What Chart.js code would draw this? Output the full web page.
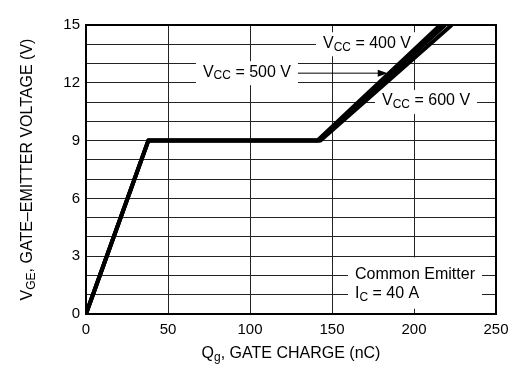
<!DOCTYPE html>
<html>
<head>
<meta charset="utf-8">
<script src="https://cdn.jsdelivr.net/npm/chart.js@4"></script>
<style>
  body { margin: 0; background: #fff; }
  #wrap { width: 518px; height: 375px; }
</style>
</head>
<body>
<div id="wrap"><canvas id="gate" width="518" height="375"></canvas></div>
<script>
// curve points (nC, V)
const qg400 = [0, 38, 141, 216];
const vge400 = [0, 9, 9, 15];
const qg500 = [0, 38, 142, 219];
const vge500 = [0, 9, 9, 15];
const qg600 = [0, 38, 143, 223];
const vge600 = [0, 9, 9, 15];

const xTicks = [0, 50, 100, 150, 200, 250];
const yTicks = [0, 3, 6, 9, 12, 15];

const FONT = '"Liberation Sans", Arial, sans-serif';

function pts(xs, ys) {
    return xs.map((x, i) => ({ x: x, y: ys[i] }));
}

// text with subscript pieces, e.g. [['V'], ['CC', true], [' = 400 V']]
function partsWidth(ctx, parts, size) {
    let w = 0;
    parts.forEach(p => {
        ctx.font = (p[1] ? size * 0.75 : size) + 'px ' + FONT;
        w += ctx.measureText(p[0]).width;
    });
    return w;
}
function drawParts(ctx, parts, x, y, size) {
    ctx.textAlign = 'left';
    ctx.textBaseline = 'middle';
    parts.forEach(p => {
        ctx.font = (p[1] ? size * 0.75 : size) + 'px ' + FONT;
        ctx.fillText(p[0], x, p[1] ? y + 4 : y);
        x += ctx.measureText(p[0]).width;
    });
}

const notes = [
    { x: 144.5, y: 14, parts: [['V'], ['CC', true], [' = 400 V']] },
    { x: 71.3, y: 12.5, parts: [['V'], ['CC', true], [' = 500 V']], arrowTo: 184 },
    { x: 180.5, y: 11, parts: [['V'], ['CC', true], [' = 600 V']] }
];

const annotations = {
    id: 'annotations',
    beforeDatasetsDraw(chart) {
        const ctx = chart.ctx;
        const xs = chart.scales.x, ys = chart.scales.y;
        const size = 16, pad = 7;
        ctx.save();
        notes.forEach(n => {
            const px = xs.getPixelForValue(n.x);
            const py = ys.getPixelForValue(n.y);
            const w = partsWidth(ctx, n.parts, size);
            ctx.fillStyle = '#fff';
            ctx.fillRect(px - pad, py - 12, w + 2 * pad, 24);
            ctx.fillStyle = '#000';
            drawParts(ctx, n.parts, px, py - 1, size);
            if (n.arrowTo) {
                const tip = xs.getPixelForValue(n.arrowTo);
                ctx.strokeStyle = '#000';
                ctx.lineWidth = 1;
                ctx.beginPath();
                ctx.moveTo(px + w + pad, py);
                ctx.lineTo(tip - 6, py);
                ctx.stroke();
                ctx.beginPath();
                ctx.moveTo(tip, py);
                ctx.lineTo(tip - 10, py - 3.5);
                ctx.lineTo(tip - 10, py + 3.5);
                ctx.closePath();
                ctx.fill();
            }
        });

        // Common Emitter / Ic box
        const cx = xs.getPixelForValue(164);
        const y1 = ys.getPixelForValue(2), y2 = ys.getPixelForValue(1);
        ctx.font = size + 'px ' + FONT;
        const cw = ctx.measureText('Common Emitter').width;
        ctx.fillStyle = '#fff';
        ctx.fillRect(cx - pad, y1 - 18, cw + 2 * pad, y2 - y1 + 32);
        ctx.fillStyle = '#000';
        drawParts(ctx, [['Common Emitter']], cx, y1 - 1, size);
        drawParts(ctx, [['I'], ['C', true], [' = 40 A']], cx, y2 - 1, size);
        ctx.restore();
    },
    afterDatasetsDraw(chart) {
        const ctx = chart.ctx, a = chart.chartArea;
        ctx.save();
        ctx.strokeStyle = '#000';
        ctx.lineWidth = 2;
        ctx.strokeRect(a.left, a.top, a.right - a.left, a.bottom - a.top);
        ctx.restore();
    },
    afterDraw(chart) {
        const ctx = chart.ctx, a = chart.chartArea;
        const size = 16;
        ctx.save();
        ctx.fillStyle = '#000';
        // x title
        const xp = [['Q'], ['g', true], [', GATE CHARGE (nC)']];
        const xw = partsWidth(ctx, xp, size);
        drawParts(ctx, xp, (a.left + a.right) / 2 - xw / 2, 354, size);
        // y title
        const yp = [['V'], ['GE', true], [', GATE\u2013EMITTER VOLTAGE (V)']];
        const yw = partsWidth(ctx, yp, size);
        ctx.translate(28, (a.top + a.bottom) / 2);
        ctx.rotate(-Math.PI / 2);
        drawParts(ctx, yp, -yw / 2, 0, size);
        ctx.restore();
    }
};

const line = (label, data) => ({
    label: label,
    data: data,
    borderColor: '#000',
    borderWidth: 4,
    pointRadius: 0,
    borderJoinStyle: 'round',
    tension: 0
});

new Chart(document.getElementById('gate'), {
    type: 'line',
    data: {
        datasets: [
            line('VCC = 400 V', pts(qg400, vge400)),
            line('VCC = 500 V', pts(qg500, vge500)),
            line('VCC = 600 V', pts(qg600, vge600))
        ]
    },
    options: {
        responsive: false,
        animation: false,
        devicePixelRatio: 1,
        layout: { padding: { left: 0, top: 25, right: 22, bottom: 0 } },
        plugins: { legend: { display: false }, tooltip: { enabled: false } },
        scales: {
            x: {
                type: 'linear',
                min: xTicks[0],
                max: xTicks[xTicks.length - 1],
                afterFit: s => { s.height = 61; },
                afterBuildTicks: s => { s.ticks = xTicks.map(v => ({ value: v })); },
                grid: { color: '#222', lineWidth: 1, drawTicks: false },
                border: { display: false },
                ticks: { color: '#000', padding: 7, font: { size: 15, family: FONT } }
            },
            y: {
                type: 'linear',
                min: 0,
                max: 15,
                afterFit: s => { s.width = 86; },
                grid: { color: '#222', lineWidth: 1, drawTicks: false },
                border: { display: false },
                ticks: {
                    stepSize: 1,
                    autoSkip: false,
                    color: '#000',
                    padding: 6,
                    font: { size: 15, family: FONT },
                    callback: v => yTicks.includes(v) ? v : ''
                }
            }
        }
    },
    plugins: [annotations]
});
</script>
</body>
</html>
